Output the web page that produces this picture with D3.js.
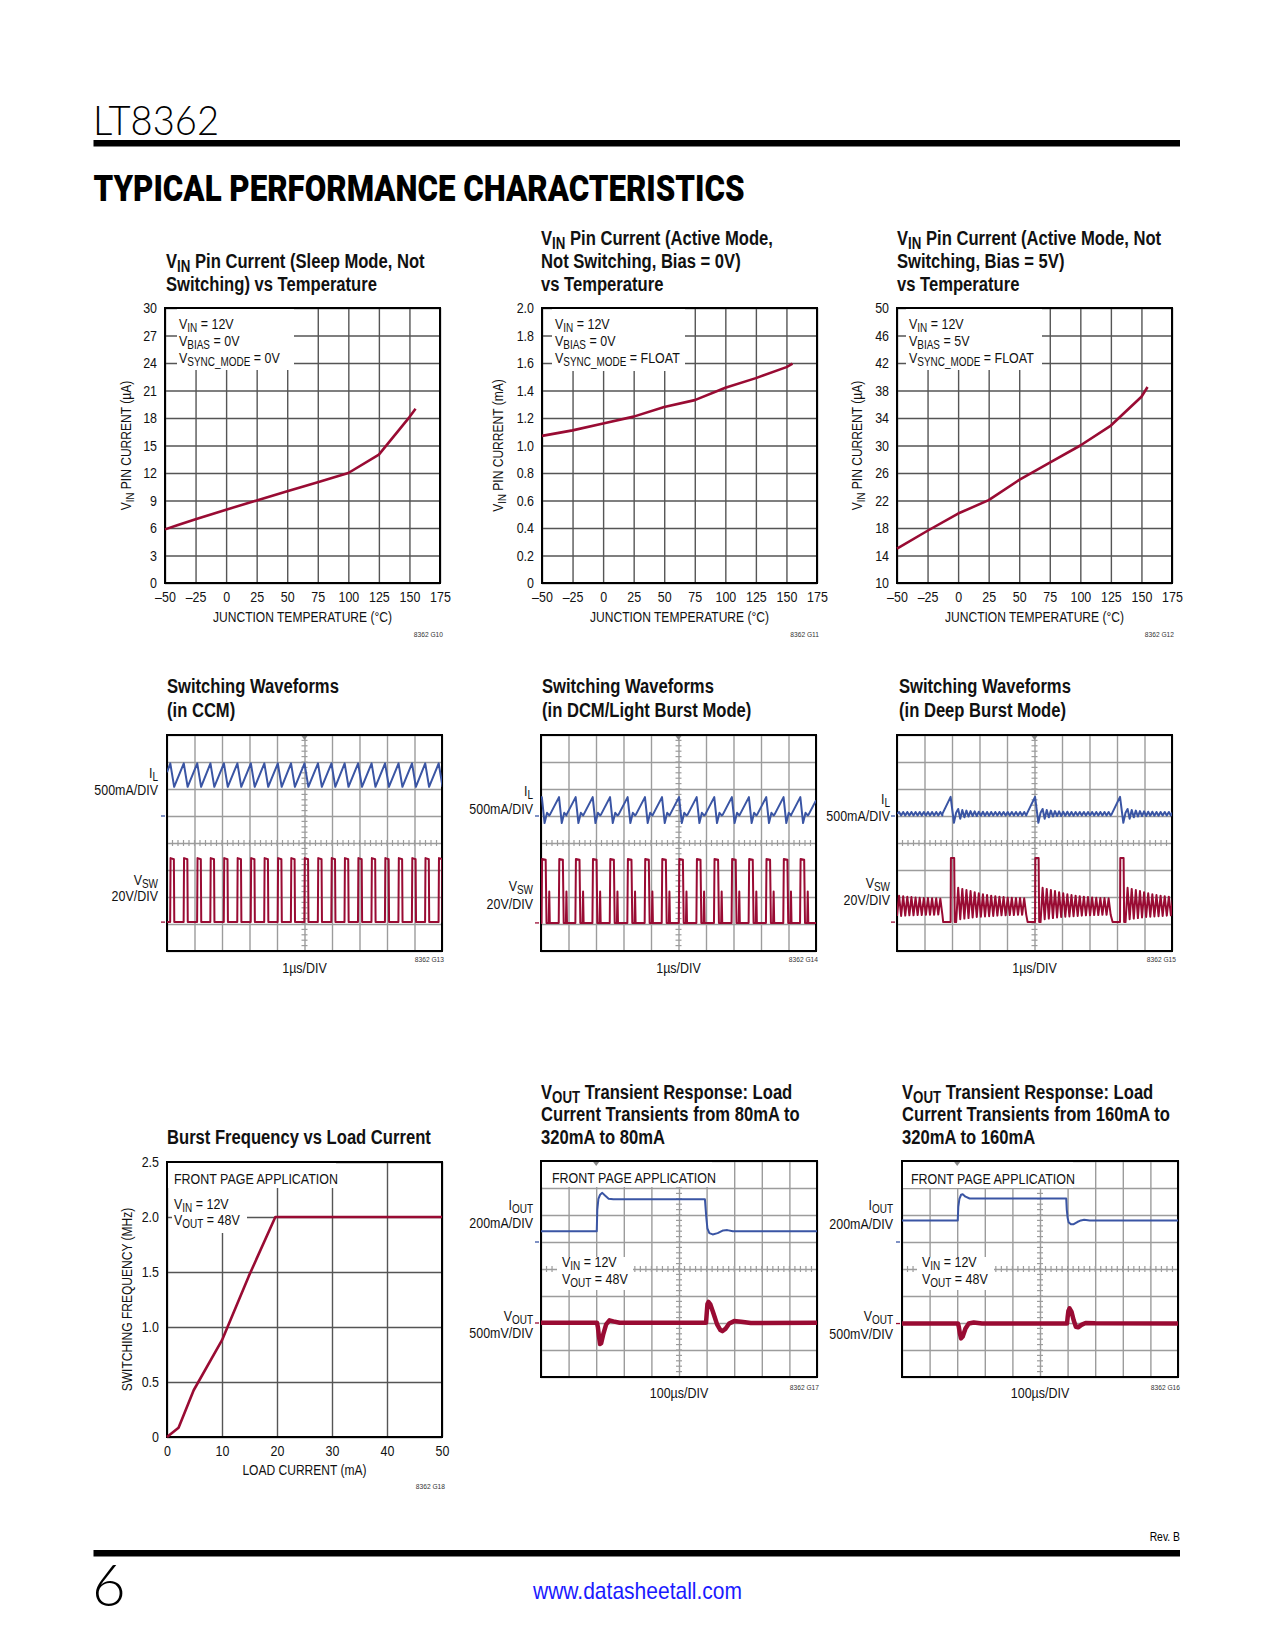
<!DOCTYPE html>
<html><head><meta charset="utf-8">
<script src="https://cdn.jsdelivr.net/npm/d3@7"></script>
<style>body{margin:0;background:#fff}svg{display:block}</style>
</head><body>
<svg id="page" width="1275" height="1650"></svg>
<script>
// ================= DATA =================
const tempTicks = [-50,-25,0,25,50,75,100,125,150,175];
const sleepTemp = [-50,-40,-25,0,25,50,75,100,125,150,155];
const sleepCurrent = [5.85,6.3,6.95,8.0,9.0,10.0,11.0,12.0,14.0,18.1,19.0];
const sleepTicks = [0,3,6,9,12,15,18,21,24,27,30];
const activeTemp = [-50,-25,0,25,50,75,100,125,150,155];
const activeCurrent = [1.07,1.11,1.16,1.21,1.28,1.33,1.42,1.49,1.57,1.595];
const activeTicks = [0,0.2,0.4,0.6,0.8,1.0,1.2,1.4,1.6,1.8,2.0];
const biasTemp = [-50,-25,0,25,50,75,100,125,150,155];
const biasCurrent = [15.0,17.6,20.1,22.05,25.0,27.5,30.0,32.9,37.1,38.5];
const biasTicks = [10,14,18,22,26,30,34,38,42,46,50];
const loadCurrent = [0,2.1,4.85,10,14.85,19.7,50];
const burstFreq = [0,0.085,0.425,0.88,1.46,2.0,2.0];
const loadTicks = [0,10,20,30,40,50];
const freqTicks = [0,0.5,1.0,1.5,2.0,2.5];

// Scope traces: time in µs (1µs/DIV, 10 div), level in divisions from bottom (8 div)
const ccmPeakTimes = [0.12,0.61,1.10,1.58,2.07,2.56,3.05,3.54,4.03,4.51,5.00,5.49,5.98,6.46,6.95,7.44,7.93,8.42,8.91,9.39,9.88];
const ccmIL = {start:6.62, peak:6.95, valley:6.08, fall:0.14};
const ccmVSW = {high:3.44, low:1.07, width:0.14};

const dcmPeakTimes = [0.03,0.655,1.26,1.88,2.51,3.15,3.78,4.40,5.02,5.66,6.30,6.94,7.56,8.19,8.82,9.43];
const dcmIL = {rest:5.05, peak:5.70, trough:4.74, bump:5.12, end:5.58};
const dcmVSW = {high:3.41, low:1.04, ring:2.2};

const deepBurstTimes = [1.95,5.02,8.11];
const deepVSW = {high:3.44, low:1.07};
const deepVswRingPeaks   = [2.34,2.30,2.26,2.22,2.18,2.14,2.10,2.07,2.05,2.03,2.01,2.00,1.98,1.97,1.96,1.96,1.95,1.95,1.94];
const deepVswRingTroughs = [1.18,1.20,1.22,1.24,1.26,1.27,1.28,1.29,1.30,1.31,1.32,1.32,1.33,1.33,1.34,1.34,1.34,1.35,1.35];
const deepIL = {rest:5.08, peak:5.71, trough:4.75};
const deepIlRipplePeaks   = [5.26,5.22,5.20,5.18,5.17,5.16,5.16,5.15,5.15,5.15,5.15,5.15,5.15,5.15,5.15,5.15,5.15,5.15,5.15];
const deepIlRippleTroughs = [4.90,4.95,4.98,5.00,5.00,5.01,5.01,5.01,5.02,5.02,5.02,5.02,5.02,5.02,5.02,5.02,5.02,5.02,5.02];

// Transients: time in µs (100µs/DIV), level in divisions
const tr1Iout = [[0,5.40],[202,5.40],[204,6.2],[208,6.6],[214,6.75],[222,6.82],[232,6.72],[245,6.6],[262,6.58],[594,6.58],[596,6.3],[599,5.9],[603,5.5],[610,5.33],[622,5.28],[640,5.33],[660,5.43],[675,5.44],[695,5.40],[1000,5.40]];
const tr1Vout = [[0,2.01],[203,2.01],[206,1.85],[210,1.5],[214,1.22],[218,1.25],[226,1.6],[236,1.95],[248,2.1],[262,2.06],[285,2.01],[598,2.01],[600,2.3],[603,2.7],[607,2.78],[614,2.68],[625,2.35],[638,1.95],[650,1.74],[657,1.70],[668,1.78],[682,1.98],[700,2.07],[725,2.05],[760,2.0],[1000,2.01]];
const tr2Iout = [[0,5.80],[202,5.80],[204,6.3],[208,6.6],[214,6.75],[220,6.77],[230,6.68],[245,6.61],[595,6.61],[597,6.2],[600,5.9],[604,5.72],[612,5.66],[622,5.66],[635,5.74],[648,5.8],[660,5.82],[680,5.80],[1000,5.80]];
const tr2Vout = [[0,1.98],[203,1.98],[206,1.85],[210,1.6],[214,1.43],[220,1.5],[230,1.8],[242,1.98],[260,2.02],[290,1.98],[598,1.98],[600,2.2],[603,2.45],[607,2.54],[614,2.42],[622,2.1],[630,1.86],[638,1.84],[650,1.93],[665,2.0],[700,1.99],[1000,1.98]];

// ================= DRAWING =================
const svg = d3.select("#page");
const FONT = "'Liberation Sans',Arial,Helvetica,sans-serif";
const SQUEEZE = 0.83;          // emulate a condensed face
const FS = 15;                 // body text size
const RED = "#990b33", BLUE = "#3a55a4", INK = "#111";

function rich(g, x, y, parts, fs, opts = {}) {
  const t = g.append("text").attr("class", "nar").attr("x", x).attr("y", y)
    .attr("font-size", fs).attr("font-family", FONT)
    .attr("text-anchor", opts.anchor || "start")
    .attr("font-weight", opts.weight || "normal")
    .attr("fill", opts.fill || INK);
  if (opts.transform) t.attr("transform", opts.transform);
  let down = false; const sh = fs * 0.22;
  parts.forEach(p => {
    const sub = p[0] === "_"; const s = sub ? p.slice(1) : p;
    const ts = t.append("tspan").text(s);
    if (sub) { ts.attr("font-size", fs * 0.8); if (!down) { ts.attr("dy", sh); down = true; } }
    else if (down) { ts.attr("dy", -sh); down = false; }
  });
  return t;
}

function title(g, x, baselines, lines) {
  lines.forEach((parts, i) => rich(g, x, baselines[i], parts, 20, {weight: "bold"}));
}

function codeLabel(g, x, y, text) {
  g.append("text").attr("class", "nar").attr("x", x).attr("y", y).attr("text-anchor", "end")
    .attr("font-size", 8).attr("font-family", FONT).attr("fill", "#333").text(text);
}

const negFmt = d => d < 0 ? "\u2013" + (-d) : String(d);

function lineChart(c) {
  const g = svg.append("g");
  const x = d3.scaleLinear().domain(c.xDomain).range([c.x0, c.x0 + c.w]);
  const y = d3.scaleLinear().domain(c.yDomain).range([c.y0 + c.h, c.y0]);
  const GRID = "#555";
  g.append("g").attr("transform", `translate(0,${c.y0 + c.h})`)
    .call(d3.axisBottom(x).tickValues(c.xTicks).tickSize(-c.h).tickFormat(""))
    .call(a => { a.select(".domain").remove(); a.selectAll("line").attr("stroke", GRID).attr("stroke-width", 1.4); });
  g.append("g").attr("transform", `translate(${c.x0},0)`)
    .call(d3.axisLeft(y).tickValues(c.yTicks).tickSize(-c.w).tickFormat(""))
    .call(a => { a.select(".domain").remove(); a.selectAll("line").attr("stroke", GRID).attr("stroke-width", 1.4); });
  c.boxes.forEach(b => g.append("rect").attr("x", b[0]).attr("y", b[1]).attr("width", b[2]).attr("height", b[3]).attr("fill", "#fff"));
  g.append("rect").attr("x", c.x0).attr("y", c.y0).attr("width", c.w).attr("height", c.h)
    .attr("fill", "none").attr("stroke", "#000").attr("stroke-width", 2);
  // tick labels
  g.append("g").attr("transform", `translate(${c.x0},0)`)
    .call(d3.axisLeft(y).tickValues(c.yTicks).tickSize(0).tickPadding(8).tickFormat(c.yFmt))
    .call(a => { a.select(".domain").remove(); a.attr("font-size", FS).attr("font-family", FONT); a.selectAll("text").attr("fill", INK).attr("class", "nar"); });
  g.append("g").attr("transform", `translate(0,${c.y0 + c.h})`)
    .call(d3.axisBottom(x).tickValues(c.xTicks).tickSize(0).tickPadding(8.3).tickFormat(c.xFmt))
    .call(a => { a.select(".domain").remove(); a.attr("font-size", FS).attr("font-family", FONT); a.selectAll("text").attr("fill", INK).attr("class", "nar"); });
  // curve
  g.append("path").datum(d3.zip(c.xs, c.ys))
    .attr("d", d3.line().x(d => x(d[0])).y(d => y(d[1])))
    .attr("fill", "none").attr("stroke", RED).attr("stroke-width", 2.6).attr("stroke-linejoin", "round");
  c.annot.forEach(a => rich(g, a.x, a.y, a.parts, FS));
  title(g, c.titleX, c.titleY, c.title);
  g.append("text").attr("class", "nar").attr("x", c.x0 + c.w / 2).attr("y", c.xTitleY).attr("text-anchor", "middle")
    .attr("font-size", 14.5).attr("font-family", FONT).attr("fill", INK).text(c.xTitle);
  rich(g, 0, 0, c.yTitle, 14.5, {anchor: "middle", transform: `translate(${c.yTitleX},${c.y0 + c.h / 2}) rotate(-90)`});
  codeLabel(g, c.codeX, c.codeY, c.code);
}

let clipN = 0;
function scopeChart(c) {
  const g = svg.append("g");
  const x = d3.scaleLinear().domain([0, c.xMax]).range([c.x0, c.x0 + c.w]);
  const y = d3.scaleLinear().domain([0, 8]).range([c.y0 + c.h, c.y0]);
  const xDivs = d3.range(0, 11).map(i => i * c.xMax / 10);
  const GRID = "#9c9c9c";
  g.append("g").attr("transform", `translate(0,${c.y0 + c.h})`)
    .call(d3.axisBottom(x).tickValues(xDivs).tickSize(-c.h).tickFormat(""))
    .call(a => { a.select(".domain").remove(); a.selectAll("line").attr("stroke", GRID).attr("stroke-width", 1.4); });
  g.append("g").attr("transform", `translate(${c.x0},0)`)
    .call(d3.axisLeft(y).tickValues(d3.range(0, 9)).tickSize(-c.w).tickFormat(""))
    .call(a => { a.select(".domain").remove(); a.selectAll("line").attr("stroke", GRID).attr("stroke-width", 1.4); });
  // centre-line minor ticks
  const mt = g.append("g").attr("stroke", GRID).attr("stroke-width", 1.2);
  d3.range(0, 50).forEach(i => {
    const xx = x(i * c.xMax / 50);
    mt.append("line").attr("x1", xx).attr("x2", xx).attr("y1", y(4) - 3).attr("y2", y(4) + 3);
  });
  d3.range(0, 40).forEach(i => {
    const yy = y(i * 0.2);
    mt.append("line").attr("y1", yy).attr("y2", yy).attr("x1", x(c.xMax / 2) - 3).attr("x2", x(c.xMax / 2) + 3);
  });
  (c.boxes || []).forEach(b => g.append("rect").attr("x", b[0]).attr("y", b[1]).attr("width", b[2]).attr("height", b[3]).attr("fill", "#fff"));
  g.append("rect").attr("x", c.x0).attr("y", c.y0).attr("width", c.w).attr("height", c.h)
    .attr("fill", "none").attr("stroke", "#000").attr("stroke-width", 2);
  // trigger marker
  const tx = x(c.trig);
  g.append("path").attr("d", `M${tx - 3},${c.y0 + 1}L${tx + 3},${c.y0 + 1}L${tx},${c.y0 + 5}Z`).attr("fill", "#888");
  const id = "clip" + (clipN++);
  g.append("clipPath").attr("id", id).append("rect").attr("x", c.x0).attr("y", c.y0).attr("width", c.w).attr("height", c.h);
  const line = d3.line().x(d => x(d[0])).y(d => y(d[1]));
  c.traces.forEach(t => g.append("path").datum(t.pts).attr("d", line).attr("clip-path", `url(#${id})`)
    .attr("fill", "none").attr("stroke", t.color).attr("stroke-width", t.width).attr("stroke-linejoin", "round"));
  // ground markers
  c.markers.forEach(m => g.append("line").attr("x1", c.x0 - 6).attr("x2", c.x0 - 2).attr("y1", y(m.v)).attr("y2", y(m.v))
    .attr("stroke", m.color).attr("stroke-width", 1.3));
  c.labels.forEach(l => rich(g, c.labelX, l.y, l.parts, FS, {anchor: "end"}));
  (c.annot || []).forEach(a => rich(g, a.x, a.y, a.parts, FS));
  title(g, c.titleX, c.titleY, c.title);
  g.append("text").attr("class", "nar").attr("x", c.x0 + c.w / 2).attr("y", c.xTitleY).attr("text-anchor", "middle")
    .attr("font-size", FS).attr("font-family", FONT).attr("fill", INK).text(c.xTitle);
  codeLabel(g, c.codeX, c.codeY, c.code);
}

// ---- build scope point lists from the read values ----
function ccmILPts() {
  const p = [[0, ccmIL.start]];
  ccmPeakTimes.forEach(t => { p.push([t, ccmIL.peak], [t + ccmIL.fall, ccmIL.valley]); });
  return p;
}
function ccmVSWPts() {
  const p = [[0, ccmVSW.low]];
  ccmPeakTimes.forEach(t => { p.push([t - 0.005, ccmVSW.low], [t + 0.01, ccmVSW.high], [t + ccmVSW.width - 0.01, ccmVSW.high - 0.04], [t + ccmVSW.width + 0.005, ccmVSW.low]); });
  p.push([10.2, ccmVSW.low]);
  return p;
}
function dcmILPts() {
  const p = [[0, 5.62]];
  dcmPeakTimes.forEach(t => {
    if (t - 0.33 > 0) p.push([t - 0.33, dcmIL.rest]);
    p.push([t, dcmIL.peak], [t + 0.1, dcmIL.trough], [t + 0.19, dcmIL.bump], [t + 0.27, dcmIL.rest - 0.03]);
  });
  p.push([9.73, dcmIL.rest], [10, dcmIL.end]);
  return p;
}
function dcmVSWPts() {
  const p = [[0, dcmVSW.low]];
  dcmPeakTimes.forEach(t => {
    p.push([t - 0.01, dcmVSW.low], [t + 0.01, dcmVSW.high], [t + 0.14, dcmVSW.high - 0.03], [t + 0.17, dcmVSW.low],
      [t + 0.25, dcmVSW.low], [t + 0.27, dcmVSW.ring], [t + 0.29, dcmVSW.low]);
  });
  p.push([10.2, dcmVSW.low]);
  return p;
}
function addRing(p, t0, t1, peaks, troughs, P) {
  let i = 0;
  while (t0 + (i + 1) * P <= t1 + 1e-9) {
    const k = Math.min(i, peaks.length - 1);
    p.push([t0 + i * P + P / 2, peaks[k]], [t0 + (i + 1) * P, troughs[k]]);
    i++;
  }
}
function deepVSWPts() {
  const P = 0.15;
  const p = [[0, 1.3]];
  addRing(p, 0, deepBurstTimes[0] - 0.27, deepVswRingPeaks.slice(8), deepVswRingTroughs.slice(8), P);
  deepBurstTimes.forEach((b, i) => {
    const nb = i + 1 < deepBurstTimes.length ? deepBurstTimes[i + 1] : 10.5;
    p.push([b - 0.27, deepVSW.low], [b, deepVSW.low], [b + 0.01, deepVSW.high], [b + 0.13, deepVSW.high], [b + 0.15, deepVSW.low], [b + 0.2, deepVSW.low]);
    addRing(p, b + 0.2, nb - 0.27, deepVswRingPeaks, deepVswRingTroughs, P);
  });
  return p;
}
function deepILPts() {
  const P = 0.15;
  const p = [[0, deepIL.rest]];
  addRing(p, 0, deepBurstTimes[0] - 0.3, deepIlRipplePeaks.slice(8), deepIlRippleTroughs.slice(8), P);
  deepBurstTimes.forEach((b, i) => {
    const nb = i + 1 < deepBurstTimes.length ? deepBurstTimes[i + 1] : 10.5;
    p.push([b - 0.3, deepIL.rest], [b, deepIL.peak], [b + 0.12, deepIL.trough], [b + 0.2, 5.12]);
    addRing(p, b + 0.2, nb - 0.3, deepIlRipplePeaks, deepIlRippleTroughs, P);
  });
  return p;
}

// ================= PAGE =================
// header
svg.append("text").attr("x", 93).attr("y", 135).attr("font-family", "Lato,'DejaVu Sans',sans-serif").attr("font-weight", 300)
  .attr("font-size", 42).attr("textLength", 126).attr("lengthAdjust", "spacingAndGlyphs").attr("fill", "#000").text("LT8362");
svg.append("rect").attr("x", 93.5).attr("y", 140).attr("width", 1086.5).attr("height", 6.5).attr("fill", "#000");
svg.append("text").attr("x", 93.5).attr("y", 201).attr("font-family", "Roboto,'DejaVu Sans',sans-serif").attr("font-weight", 900)
  .attr("font-size", 36).attr("textLength", 651).attr("lengthAdjust", "spacingAndGlyphs").attr("fill", "#000")
  .text("TYPICAL PERFORMANCE CHARACTERISTICS");

// footer
svg.append("text").attr("class", "nar").attr("x", 1180).attr("y", 1541).attr("text-anchor", "end").attr("font-family", FONT)
  .attr("font-size", 12.5).attr("fill", "#000").text("Rev. B");
svg.append("rect").attr("x", 93.5).attr("y", 1550).attr("width", 1086.5).attr("height", 6.5).attr("fill", "#000");
svg.append("text").attr("x", 92).attr("y", 1606).attr("font-family", "Lato,'DejaVu Sans',sans-serif").attr("font-weight", 300)
  .attr("font-size", 58).attr("fill", "#000").text("6");
svg.append("text").attr("x", 637.5).attr("y", 1599).attr("text-anchor", "middle").attr("font-family", FONT)
  .attr("font-size", 24).attr("textLength", 209).attr("lengthAdjust", "spacingAndGlyphs").attr("fill", "#1a1aff").text("www.datasheetall.com");

// Row 1
const f1 = d => d === 0 ? "0" : d.toFixed(1);
lineChart({
  x0: 165, y0: 308, w: 275, h: 275, xDomain: [-50, 175], yDomain: [0, 30],
  xTicks: tempTicks, yTicks: sleepTicks, xFmt: negFmt, yFmt: d => String(d),
  xs: sleepTemp, ys: sleepCurrent,
  boxes: [[177, 309, 117, 61]],
  annot: [{x: 179, y: 329, parts: ["V", "_IN", " = 12V"]}, {x: 179, y: 346, parts: ["V", "_BIAS", " = 0V"]}, {x: 179, y: 363, parts: ["V", "_SYNC_MODE", " = 0V"]}],
  titleX: 166, titleY: [268, 291], title: [["V", "_IN", " Pin Current (Sleep Mode, Not"], ["Switching) vs Temperature"]],
  xTitle: "JUNCTION TEMPERATURE (\u00B0C)", xTitleY: 622, yTitleX: 131, yTitle: ["V", "_IN", " PIN CURRENT (\u00B5A)"],
  codeX: 443, codeY: 637, code: "8362 G10"
});
lineChart({
  x0: 542, y0: 308, w: 275, h: 275, xDomain: [-50, 175], yDomain: [0, 2],
  xTicks: tempTicks, yTicks: activeTicks, xFmt: negFmt, yFmt: f1,
  xs: activeTemp, ys: activeCurrent,
  boxes: [[552, 309, 133, 62]],
  annot: [{x: 555, y: 329, parts: ["V", "_IN", " = 12V"]}, {x: 555, y: 346, parts: ["V", "_BIAS", " = 0V"]}, {x: 555, y: 363, parts: ["V", "_SYNC_MODE", " = FLOAT"]}],
  titleX: 541, titleY: [245, 268, 291], title: [["V", "_IN", " Pin Current (Active Mode,"], ["Not Switching, Bias = 0V)"], ["vs Temperature"]],
  xTitle: "JUNCTION TEMPERATURE (\u00B0C)", xTitleY: 622, yTitleX: 503, yTitle: ["V", "_IN", " PIN CURRENT (mA)"],
  codeX: 819, codeY: 637, code: "8362 G11"
});
lineChart({
  x0: 897, y0: 308, w: 275, h: 275, xDomain: [-50, 175], yDomain: [10, 50],
  xTicks: tempTicks, yTicks: biasTicks, xFmt: negFmt, yFmt: d => String(d),
  xs: biasTemp, ys: biasCurrent,
  boxes: [[906, 309, 136, 61]],
  annot: [{x: 909, y: 329, parts: ["V", "_IN", " = 12V"]}, {x: 909, y: 346, parts: ["V", "_BIAS", " = 5V"]}, {x: 909, y: 363, parts: ["V", "_SYNC_MODE", " = FLOAT"]}],
  titleX: 897, titleY: [245, 268, 291], title: [["V", "_IN", " Pin Current (Active Mode, Not"], ["Switching, Bias = 5V)"], ["vs Temperature"]],
  xTitle: "JUNCTION TEMPERATURE (\u00B0C)", xTitleY: 622, yTitleX: 862, yTitle: ["V", "_IN", " PIN CURRENT (\u00B5A)"],
  codeX: 1174, codeY: 637, code: "8362 G12"
});

// Row 2 (scope shots)
scopeChart({
  x0: 167, y0: 735, w: 275, h: 216, xMax: 10, trig: 5,
  traces: [{pts: ccmILPts(), color: BLUE, width: 2}, {pts: ccmVSWPts(), color: RED, width: 2}],
  markers: [{v: 5, color: BLUE}, {v: 1.07, color: RED}],
  labelX: 158,
  labels: [{y: 778, parts: ["I", "_L"]}, {y: 795, parts: ["500mA/DIV"]}, {y: 885, parts: ["V", "_SW"]}, {y: 901, parts: ["20V/DIV"]}],
  titleX: 167, titleY: [693, 717], title: [["Switching Waveforms"], ["(in CCM)"]],
  xTitle: "1\u00B5s/DIV", xTitleY: 973, codeX: 444, codeY: 962, code: "8362 G13"
});
scopeChart({
  x0: 541, y0: 735, w: 275, h: 216, xMax: 10, trig: 5,
  traces: [{pts: dcmILPts(), color: BLUE, width: 2}, {pts: dcmVSWPts(), color: RED, width: 2}],
  markers: [{v: 5, color: BLUE}, {v: 1.04, color: RED}],
  labelX: 533,
  labels: [{y: 796, parts: ["I", "_L"]}, {y: 814, parts: ["500mA/DIV"]}, {y: 891, parts: ["V", "_SW"]}, {y: 909, parts: ["20V/DIV"]}],
  titleX: 542, titleY: [693, 717], title: [["Switching Waveforms"], ["(in DCM/Light Burst Mode)"]],
  xTitle: "1\u00B5s/DIV", xTitleY: 973, codeX: 818, codeY: 962, code: "8362 G14"
});
scopeChart({
  x0: 897, y0: 735, w: 275, h: 216, xMax: 10, trig: 5,
  traces: [{pts: deepILPts(), color: BLUE, width: 2}, {pts: deepVSWPts(), color: RED, width: 2}],
  markers: [{v: 5, color: BLUE}, {v: 1.07, color: RED}],
  labelX: 890,
  labels: [{y: 804, parts: ["I", "_L"]}, {y: 821, parts: ["500mA/DIV"]}, {y: 888, parts: ["V", "_SW"]}, {y: 905, parts: ["20V/DIV"]}],
  titleX: 899, titleY: [693, 717], title: [["Switching Waveforms"], ["(in Deep Burst Mode)"]],
  xTitle: "1\u00B5s/DIV", xTitleY: 973, codeX: 1176, codeY: 962, code: "8362 G15"
});

// Row 3
lineChart({
  x0: 167, y0: 1162, w: 275, h: 275, xDomain: [0, 50], yDomain: [0, 2.5],
  xTicks: loadTicks, yTicks: freqTicks, xFmt: d => String(d), yFmt: f1,
  xs: loadCurrent, ys: burstFreq,
  boxes: [[168, 1163, 168, 25], [172, 1188, 75, 45]],
  annot: [{x: 174, y: 1184, parts: ["FRONT PAGE APPLICATION"]}, {x: 174, y: 1209, parts: ["V", "_IN", " = 12V"]}, {x: 174, y: 1225, parts: ["V", "_OUT", " = 48V"]}],
  titleX: 167, titleY: [1144], title: [["Burst Frequency vs Load Current"]],
  xTitle: "LOAD CURRENT (mA)", xTitleY: 1475, yTitleX: 132, yTitle: ["SWITCHING FREQUENCY (MHz)"],
  codeX: 445, codeY: 1489, code: "8362 G18"
});
scopeChart({
  x0: 541, y0: 1161, w: 276, h: 216, xMax: 1000, trig: 200,
  boxes: [[542, 1162, 170, 25], [557, 1257, 76, 33]],
  traces: [{pts: tr1Iout, color: BLUE, width: 2}, {pts: tr1Vout, color: RED, width: 4.5}],
  markers: [{v: 5, color: BLUE}, {v: 2.0, color: RED}],
  labelX: 533,
  labels: [{y: 1210, parts: ["I", "_OUT"]}, {y: 1228, parts: ["200mA/DIV"]}, {y: 1321, parts: ["V", "_OUT"]}, {y: 1338, parts: ["500mV/DIV"]}],
  annot: [{x: 552, y: 1183, parts: ["FRONT PAGE APPLICATION"]}, {x: 562, y: 1267, parts: ["V", "_IN", " = 12V"]}, {x: 562, y: 1284, parts: ["V", "_OUT", " = 48V"]}],
  titleX: 541, titleY: [1099, 1121, 1144], title: [["V", "_OUT", " Transient Response: Load"], ["Current Transients from 80mA to"], ["320mA to 80mA"]],
  xTitle: "100\u00B5s/DIV", xTitleY: 1398, codeX: 819, codeY: 1390, code: "8362 G17"
});
scopeChart({
  x0: 902, y0: 1161, w: 276, h: 216, xMax: 1000, trig: 200,
  boxes: [[903, 1162, 170, 26], [917, 1257, 77, 33]],
  traces: [{pts: tr2Iout, color: BLUE, width: 2}, {pts: tr2Vout, color: RED, width: 4.5}],
  markers: [{v: 5, color: BLUE}, {v: 1.98, color: RED}],
  labelX: 893,
  labels: [{y: 1210, parts: ["I", "_OUT"]}, {y: 1229, parts: ["200mA/DIV"]}, {y: 1321, parts: ["V", "_OUT"]}, {y: 1339, parts: ["500mV/DIV"]}],
  annot: [{x: 911, y: 1184, parts: ["FRONT PAGE APPLICATION"]}, {x: 922, y: 1267, parts: ["V", "_IN", " = 12V"]}, {x: 922, y: 1284, parts: ["V", "_OUT", " = 48V"]}],
  titleX: 902, titleY: [1099, 1121, 1144], title: [["V", "_OUT", " Transient Response: Load"], ["Current Transients from 160mA to"], ["320mA to 160mA"]],
  xTitle: "100\u00B5s/DIV", xTitleY: 1398, codeX: 1180, codeY: 1390, code: "8362 G16"
});

// condense all body text (the reference uses a condensed sans face)
svg.selectAll("text.nar").each(function () {
  const L = this.getComputedTextLength();
  if (L > 0) { this.setAttribute("textLength", (L * SQUEEZE).toFixed(2)); this.setAttribute("lengthAdjust", "spacingAndGlyphs"); }
});
</script>
</body></html>
